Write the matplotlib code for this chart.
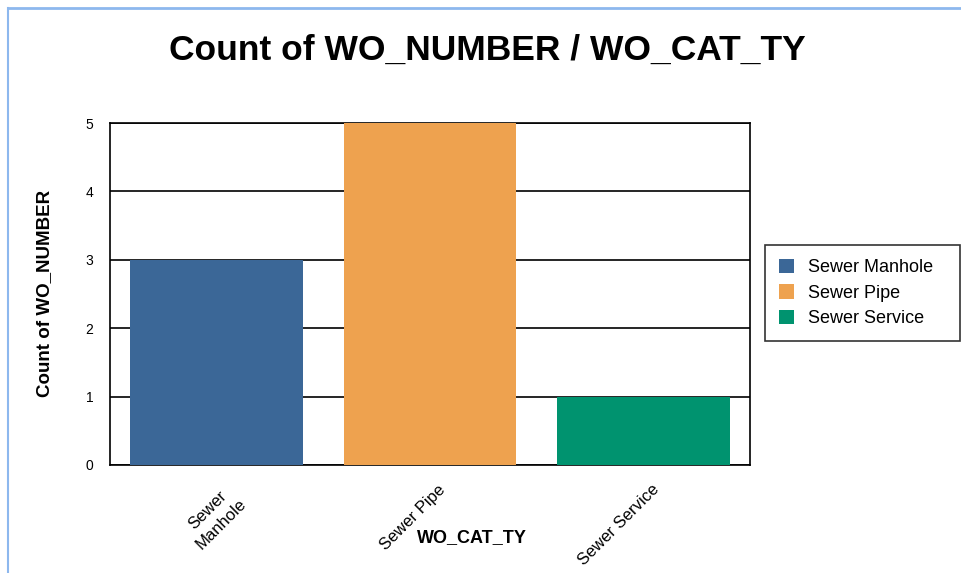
import matplotlib.pyplot as plt
from matplotlib.lines import Line2D
from matplotlib.transforms import ScaledTranslation

categories = ["Sewer Manhole", "Sewer Pipe", "Sewer Service"]
tick_labels = ["Sewer\nManhole", "Sewer Pipe", "Sewer Service"]
counts = [3, 5, 1]
colors = ["#3B6797", "#EEA24F", "#00936F"]

plt.rcParams['font.family'] = ['Liberation Sans', 'DejaVu Sans']

fig = plt.figure(figsize=(9.61, 5.73), dpi=100)
ax = fig.add_axes([110/961, 1-465/573, 640/961, 342/573])

x = range(len(categories))
bars = ax.bar(x, counts, width=0.81, color=colors, zorder=3)
ax.set_xlim(-0.5, 2.5)
ax.set_ylim(0, 5)
ax.set_yticks(range(6))
ax.yaxis.grid(True, color="black", linewidth=1.2, zorder=1)
ax.tick_params(axis="both", length=0)
ax.tick_params(axis="y", pad=12, labelsize=10)
ax.set_xticks(list(x))
ax.set_xticklabels(tick_labels, rotation=45, ha="right", va="top",
                   rotation_mode="anchor", fontsize=12, multialignment="center",
                   linespacing=1.4)
shift = ScaledTranslation(8/100, -12/100, fig.dpi_scale_trans)
for lbl in ax.get_xticklabels():
    lbl.set_transform(lbl.get_transform() + shift)
for s in ax.spines.values():
    s.set_linewidth(1.2)

fig.text(45/961, 1-293/573, "Count of WO_NUMBER", fontsize=13.5, fontweight="bold",
         rotation=90, ha="center", va="center")
fig.text(472/961, 1-538/573, "WO_CAT_TY", fontsize=13, fontweight="bold",
         ha="center", va="center")

fig.text(487/961, 1-50/573, "Count of WO_NUMBER / WO_CAT_TY", fontsize=25.5,
         fontweight="bold", ha="center", va="center")

leg = ax.legend(bars, categories, loc="upper left",
                bbox_to_anchor=(765/961, 1-343/573, 195/961, 98/573), mode="expand",
                bbox_transform=fig.transFigure, frameon=True, fancybox=False,
                edgecolor="black", fontsize=13, handlelength=0.85, handleheight=0.85,
                handletextpad=0.8, borderpad=0.75, labelspacing=0.45, borderaxespad=0)
leg.get_frame().set_linewidth(1.2)

# window frame lines
fig.add_artist(Line2D([8/961, 1], [1-8/573, 1-8/573], color="#8DB8EE", linewidth=2))
fig.add_artist(Line2D([8/961, 8/961], [0, 1-8/573], color="#8DB8EE", linewidth=1.5))

fig.savefig("out.png", dpi=100)
